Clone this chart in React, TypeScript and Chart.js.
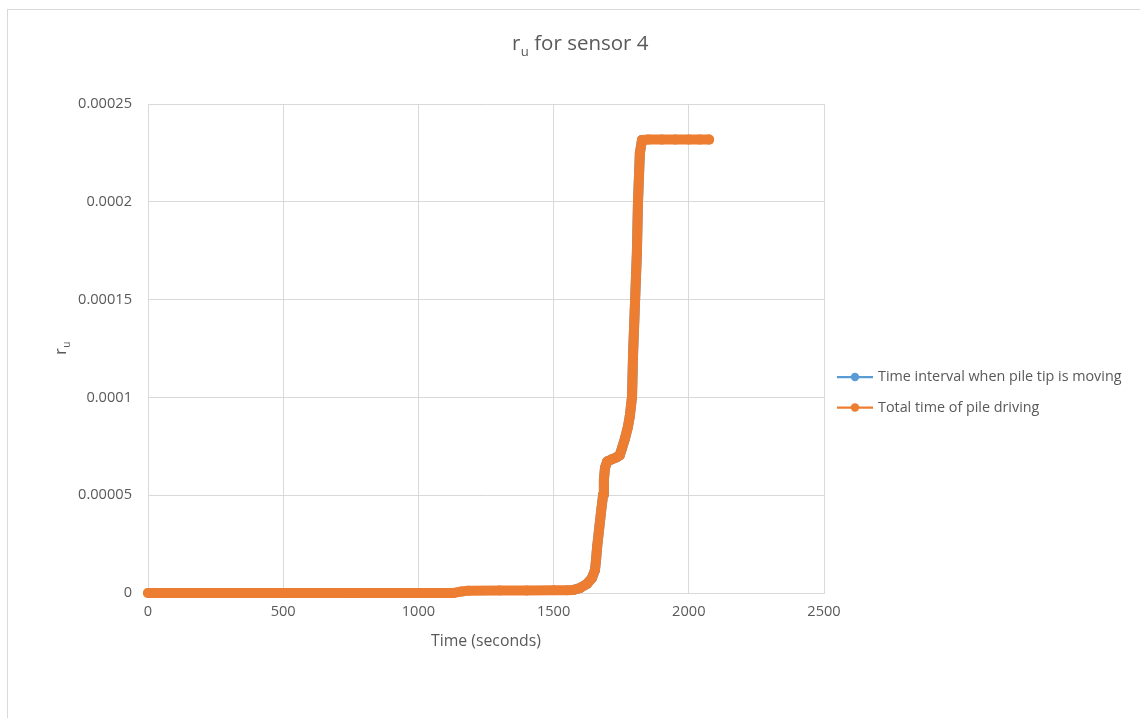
import React, { useEffect, useRef } from "react";
import { Chart, registerables } from "chart.js";

Chart.register(...registerables);

const FONT = '"Open Sans", "Liberation Sans", sans-serif';
const TEXT = "#595959";
const GRID = "#D9D9D9";
const ORANGE = "#ED7D31";
const BLUE = "#5B9BD5";

// Whole pile driving record: elapsed time (s) and r_u
const totalTime = [
  0, 250, 500, 750, 1000, 1130, 1160, 1185, 1300, 1400, 1500, 1550, 1572,
  1598, 1623, 1642, 1653, 1657, 1661, 1668, 1675, 1683, 1686, 1690, 1698,
  1718, 1735, 1745, 1753, 1764, 1775, 1782, 1786, 1790, 1794, 1801, 1808,
  1812, 1819, 1827, 1850, 1900, 1950, 2000, 2040, 2075,
];
const totalRu = [
  0, 0, 0, 0, 0, 0, 0.0000008, 0.0000012, 0.0000013, 0.0000013, 0.0000014,
  0.0000014, 0.0000015, 0.0000026, 0.0000046, 0.0000077, 0.0000118,
  0.0000169, 0.0000235, 0.0000322, 0.0000409, 0.0000501, 0.0000578,
  0.0000639, 0.0000672, 0.0000685, 0.0000695, 0.0000705, 0.0000740,
  0.0000790, 0.0000850, 0.0000905, 0.0000955, 0.0001002, 0.0001227,
  0.0001482, 0.0001738, 0.0001994, 0.0002249, 0.0002316, 0.0002318,
  0.0002318, 0.0002318, 0.0002318, 0.0002318, 0.0002318,
];

// Interval in which the pile tip is moving (same readings, 1572 s to 1827 s)
const tipTime = [
  1572, 1598, 1623, 1642, 1653, 1657, 1661, 1668, 1675, 1683, 1686, 1690,
  1698, 1718, 1735, 1745, 1753, 1764, 1775, 1782, 1786, 1790, 1794, 1801,
  1808, 1812, 1819, 1827,
];
const tipRu = [
  0.0000015, 0.0000026, 0.0000046, 0.0000077, 0.0000118, 0.0000169,
  0.0000235, 0.0000322, 0.0000409, 0.0000501, 0.0000578, 0.0000639,
  0.0000672, 0.0000685, 0.0000695, 0.0000705, 0.0000740, 0.0000790,
  0.0000850, 0.0000905, 0.0000955, 0.0001002, 0.0001227, 0.0001482,
  0.0001738, 0.0001994, 0.0002249, 0.0002316,
];

const xTicks = [0, 500, 1000, 1500, 2000, 2500];
const yTicks = [0, 0.00005, 0.0001, 0.00015, 0.0002, 0.00025];
const yTickLabels = ["0", "0.00005", "0.0001", "0.00015", "0.0002", "0.00025"];

const seriesNames = ["Time interval when pile tip is moving", "Total time of pile driving"];
const titleParts = ["r", "u", " for sensor 4"];
const yTitleParts = ["r", "u", ""];
const xTitle = "Time (seconds)";

type Ctx = CanvasRenderingContext2D;

// Draws "main" + lowered subscript + rest, centred on x
function drawSubscripted(ctx: Ctx, parts: string[], x: number, y: number, size: number) {
  const [base, sub, rest] = parts;
  const subSize = size * 0.64;
  ctx.font = `${size}px ${FONT}`;
  const wBase = ctx.measureText(base).width;
  const wRest = ctx.measureText(rest).width;
  ctx.font = `${subSize}px ${FONT}`;
  const wSub = ctx.measureText(sub).width;
  let cx = x - (wBase + wSub + wRest) / 2;
  ctx.textAlign = "left";
  ctx.textBaseline = "alphabetic";
  ctx.font = `${size}px ${FONT}`;
  ctx.fillText(base, cx, y);
  cx += wBase + 0.5;
  ctx.font = `${subSize}px ${FONT}`;
  ctx.fillText(sub, cx, y + size * 0.28);
  cx += wSub;
  ctx.font = `${size}px ${FONT}`;
  ctx.fillText(rest, cx, y);
}

const annotations = {
  id: "ruAnnotations",
  afterDraw(chart: any) {
    const { ctx, chartArea } = chart;
    ctx.save();
    ctx.fillStyle = TEXT;

    // chart title, centred on the frame
    drawSubscripted(ctx, titleParts, 580, 50, 20.5);

    // vertical axis title
    ctx.save();
    ctx.translate(66, (chartArea.top + chartArea.bottom) / 2);
    ctx.rotate(-Math.PI / 2);
    drawSubscripted(ctx, yTitleParts, 0, 0, 15.8);
    ctx.restore();

    // legend: line with a circle marker, then the series name
    const colors = [BLUE, ORANGE];
    const lx = chartArea.right + 13;
    seriesNames.forEach((name, i) => {
      const ly = 377 + i * 30.5;
      ctx.strokeStyle = colors[i];
      ctx.fillStyle = colors[i];
      ctx.lineWidth = 2.25;
      ctx.beginPath();
      ctx.moveTo(lx, ly);
      ctx.lineTo(lx + 36, ly);
      ctx.stroke();
      ctx.beginPath();
      ctx.arc(lx + 18, ly, 4.2, 0, Math.PI * 2);
      ctx.fill();
      ctx.fillStyle = TEXT;
      ctx.font = `14.35px ${FONT}`;
      ctx.textAlign = "left";
      ctx.textBaseline = "middle";
      ctx.fillText(name, lx + 41, ly);
    });
    ctx.restore();
  },
};

export default function App() {
  const ref = useRef<HTMLCanvasElement | null>(null);

  useEffect(() => {
    if (!ref.current) return;
    const lineStyle = (color: string) => ({
      borderColor: color,
      backgroundColor: color,
      pointBackgroundColor: color,
      pointBorderColor: color,
      borderWidth: 10,
      pointRadius: 5,
      pointBorderWidth: 0,
      pointHoverRadius: 5,
      borderCapStyle: "round" as const,
      borderJoinStyle: "round" as const,
      tension: 0,
      clip: false as const,
    });
    const chart = new Chart(ref.current, {
      type: "line",
      data: {
        datasets: [
          {
            label: seriesNames[0],
            data: tipTime.map((t, i) => ({ x: t, y: tipRu[i] })),
            ...lineStyle(BLUE),
            order: 1,
          },
          {
            label: seriesNames[1],
            data: totalTime.map((t, i) => ({ x: t, y: totalRu[i] })),
            ...lineStyle(ORANGE),
            order: 0,
          },
        ],
      },
      options: {
        animation: false,
        responsive: false,
        devicePixelRatio: 1,
        layout: { padding: { left: 0, right: 316, top: 104, bottom: 67 } },
        plugins: {
          legend: { display: false },
          title: { display: false },
          tooltip: { enabled: false },
        },
        scales: {
          x: {
            type: "linear",
            min: 0,
            max: 2500,
            afterBuildTicks: (s: any) => {
              s.ticks = xTicks.map((v) => ({ value: v }));
            },
            afterFit: (s: any) => {
              s.height = 58;
            },
            grid: { color: GRID, lineWidth: 1, drawTicks: false },
            border: { color: GRID },
            ticks: {
              color: TEXT,
              font: { family: FONT, size: 14.6 },
              padding: 10,
              maxRotation: 0,
              callback: (v: any) => String(v),
            },
            title: {
              display: true,
              text: xTitle,
              color: TEXT,
              font: { family: FONT, size: 15.8 },
              padding: { top: 0, bottom: 0 },
            },
          },
          y: {
            type: "linear",
            min: 0,
            max: 0.00025,
            afterBuildTicks: (s: any) => {
              s.ticks = yTicks.map((v) => ({ value: v }));
            },
            afterFit: (s: any) => {
              s.width = 148;
            },
            grid: { color: GRID, lineWidth: 1, drawTicks: false },
            border: { color: GRID },
            ticks: {
              color: TEXT,
              font: { family: FONT, size: 14.6 },
              padding: 16,
              callback: (_v: any, i: number) => yTickLabels[i],
            },
          },
        },
      },
      plugins: [annotations],
    });
    return () => chart.destroy();
  }, []);

  return (
    <>
      <div
        style={{
          position: "fixed",
          left: 7,
          top: 9,
          right: 0,
          bottom: 0,
          borderLeft: `1px solid ${GRID}`,
          borderTop: `1px solid ${GRID}`,
          background: "#fff",
        }}
      />
      <canvas
        ref={ref}
        width={1140}
        height={718}
        style={{ position: "fixed", left: 0, top: 0, width: 1140, height: 718 }}
      />
    </>
  );
}
